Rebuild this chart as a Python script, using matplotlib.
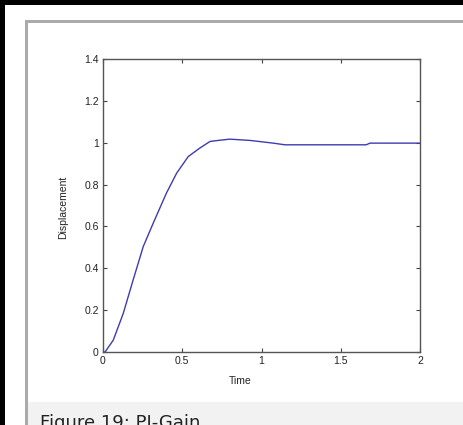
import matplotlib
matplotlib.use("Agg")
import matplotlib.pyplot as plt
from matplotlib.patches import Rectangle

# Data
time = [0.0, 0.013, 0.065, 0.128, 0.19, 0.254, 0.317, 0.40, 0.465, 0.538, 0.612,
        0.675, 0.738, 0.80, 0.927, 1.074, 1.148, 1.40, 1.66, 1.685, 1.85, 2.0]
displacement = [0.0, 0.0, 0.057, 0.185, 0.344, 0.504, 0.616, 0.759, 0.855, 0.934, 0.975,
                1.006, 1.012, 1.017, 1.011, 0.998, 0.990, 0.990, 0.990, 0.998, 0.998, 0.998]
xticks = [0, 0.5, 1, 1.5, 2]
yticks = [0, 0.2, 0.4, 0.6, 0.8, 1, 1.2, 1.4]
xticklabels = ["0", "0.5", "1", "1.5", "2"]
yticklabels = ["0", "0.2", "0.4", "0.6", "0.8", "1", "1.2", "1.4"]
caption = "Figure 19: PI-Gain"

W, H = 464, 425
fig = plt.figure(figsize=(W / 100, H / 100), dpi=100)
fig.patch.set_facecolor("white")

def fx(x):
    return x / W

def fy(y):
    return 1 - y / H

def rect(x0, y0, x1, y1, **kw):
    fig.patches.append(Rectangle((fx(x0), fy(y1)), fx(x1) - fx(x0), fy(y0) - fy(y1),
                                 transform=fig.transFigure, figure=fig, **kw))

# outer black frame (top and left)
rect(0, 0, W, 5, facecolor="black", edgecolor="none")
rect(0, 0, 5, H, facecolor="black", edgecolor="none")
# caption band
rect(26, 402, W, H, facecolor="#f2f2f2", edgecolor="none")
# gray box border (top and left)
rect(25, 20, W, 23, facecolor="#aaaaaa", edgecolor="none")
rect(25, 20, 28, H, facecolor="#aaaaaa", edgecolor="none")

ax = fig.add_axes([fx(103), fy(352), (420 - 103) / W, (352 - 59) / H])
ax.plot(time, displacement, color="#3c3cb0", linewidth=1.0)
ax.set_xlim(0, 2)
ax.set_ylim(0, 1.4)
ax.set_xticks(xticks)
ax.set_xticklabels(xticklabels)
ax.set_yticks(yticks)
ax.set_yticklabels(yticklabels)
ax.tick_params(direction="in", length=3, width=0.8, colors="#444444",
               labelcolor="#222222", labelsize=7.5, top=True, right=True, pad=3,
               labelfontfamily="Liberation Sans")
for s in ax.spines.values():
    s.set_color("#555555")
    s.set_linewidth(1.0)

fig.text(fx(240), fy(381), "Time", ha="center", va="center", fontsize=7.5,
         family="Liberation Sans", color="#222222")
fig.text(fx(63), fy(207), "Displacement", ha="center", va="center", fontsize=7.5,
         rotation=90, family="Liberation Sans", color="#222222")

fig.text(fx(40), fy(428), caption, ha="left", va="baseline", fontsize=13,
         family="DejaVu Sans", color="#222222")

fig.savefig("out.png", dpi=100)
